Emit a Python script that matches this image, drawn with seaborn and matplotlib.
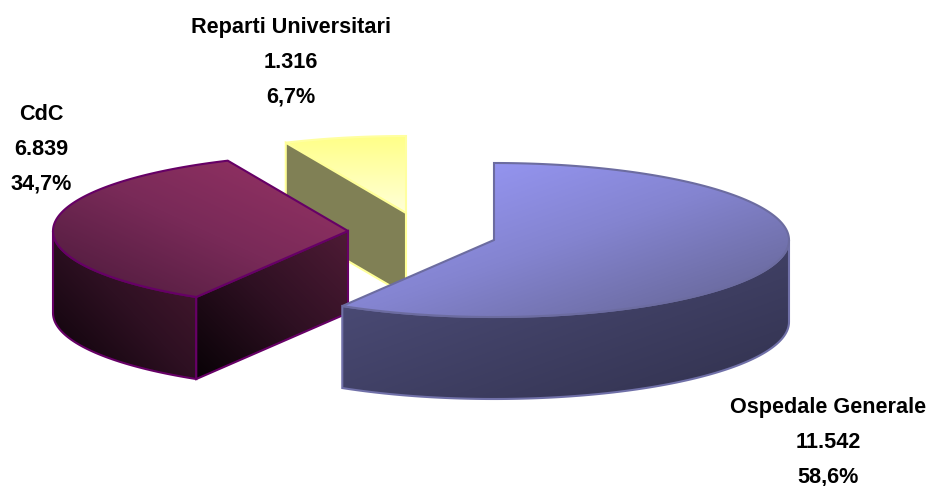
import numpy as np
import matplotlib
matplotlib.use("Agg")
import matplotlib.pyplot as plt
from matplotlib.patches import Polygon
import seaborn as sns

# data
categories = ["Ospedale Generale", "CdC", "Reparti Universitari"]
values = [11542, 6839, 1316]

# layout, in pixels of the picture (labels: baseline of the first line)
centers = [(494, 240), (348, 231), (406, 213)]
label_pos = [(828, 413), (41, 120), (291, 33)]
RX, RY, DEPTH = 295, 77, 82
LINE_GAP = 34.5

sns.set_theme(style="white")
plt.rcParams["font.family"] = ["Liberation Sans", "DejaVu Sans"]


def arc(center, a0, a1, n=120):
    t = np.radians(np.linspace(a0, a1, n))
    return np.column_stack([center[0] + RX * np.cos(t), center[1] - RY * np.sin(t)])


def shaded(ax, pts, direction, colors, edge, lw=1.5, z=1):
    """Fill a polygon with a linear gradient, then stroke its outline."""
    pts = np.asarray(pts)
    x0, y0 = pts.min(axis=0)
    x1, y1 = pts.max(axis=0)
    xx, yy = np.meshgrid(np.linspace(0, 1, 200), np.linspace(0, 1, 200))
    grad = xx * direction[0] + yy * direction[1]
    img = ax.imshow(grad, extent=(x0, x1, y1, y0), origin="upper", aspect="auto",
                    cmap=sns.blend_palette(colors, as_cmap=True), zorder=z)
    patch = Polygon(pts, closed=True, fc="none", ec=edge, lw=lw, zorder=z, joinstyle="miter")
    ax.add_patch(patch)
    img.set_clip_path(patch)


fig = plt.figure(figsize=(9.31, 4.86), dpi=100)
ax = fig.add_axes([0, 0, 1, 1])

# slice angles from the values, clockwise from 12 o'clock
shares = np.array(values) / sum(values)
ends = 90 - 360 * np.cumsum(shares)
starts = np.r_[90, ends[:-1]]

# Reparti Universitari (back)
c = centers[2]
a0, a1 = starts[2], ends[2]
top = np.vstack([[c], arc(c, a1, a0, 30)])
p = arc(c, a0, a0, 1)[0]
shaded(ax, top, (0, 1), ["#ffff88", "#ffffd8"], "#ffffa0", z=1)
face = [p, c, (c[0], c[1] + DEPTH), (p[0], p[1] + DEPTH)]
ax.add_patch(Polygon(face, closed=True, fc="#808055", ec="#ffff99", lw=1.5, zorder=1.5))

# CdC
c = centers[1]
a0, a1 = starts[1], ends[1]
rim = arc(c, a0, -180, 60)
side = np.vstack([rim, (rim + [0, DEPTH])[::-1]])
shaded(ax, side, (1, -1), ["#0a0208", "#2e1022", "#4d1a33"], "#660066", z=2)
p = arc(c, a0, a0, 1)[0]
cut = [c, p, p + [0, DEPTH], (c[0], c[1] + DEPTH)]
shaded(ax, cut, (1, -1), ["#080206", "#2e1022", "#4f1b36"], "#660066", z=2.1)
top = np.vstack([[c], arc(c, a0, a1, 160)])
shaded(ax, top, (1, -1), ["#4a1a3a", "#792a58", "#993366"], "#660066", z=2.2)

# Ospedale Generale (front)
c = centers[0]
a0, a1 = starts[0], ends[0]
rim = arc(c, a1, 0, 120)
side = np.vstack([rim, (rim + [0, DEPTH])[::-1]])
shaded(ax, side, (1, 1), ["#50507e", "#31314d"], "#7070a8", z=3)
top = np.vstack([[c], arc(c, a0, a1, 240)])
shaded(ax, top, (1, 1), ["#9c9cff", "#8484d0", "#62628e"], "#6c6ca0", z=3.1)

# labels
for name, value, share, (x, y) in zip(categories, values, shares, label_pos):
    lines = [name, f"{value:,}".replace(",", "."), f"{share * 100:.1f}%".replace(".", ",")]
    for i, line in enumerate(lines):
        ax.text(x, y + i * LINE_GAP, line, ha="center", va="baseline", fontsize=15.6,
                fontweight="bold", color="black", zorder=5)

ax.set_xlim(0, 931)
ax.set_ylim(486, 0)
ax.axis("off")
fig.savefig("out.png", dpi=100, facecolor="white")
